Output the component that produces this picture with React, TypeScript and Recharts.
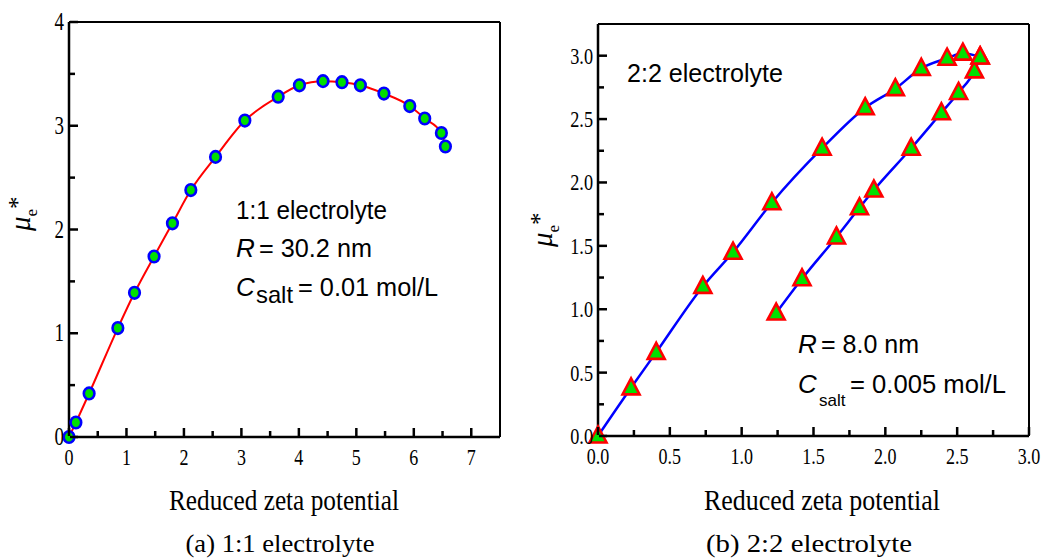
import React from "react";
import { LineChart, Line, XAxis, YAxis, ReferenceLine } from "recharts";

// (a) 1:1 electrolyte, R = 30.2 nm
const zeta11 = [0, 0.12, 0.35, 0.85, 1.14, 1.48, 1.8, 2.12, 2.55, 3.06, 3.64, 4.01, 4.42, 4.75, 5.07, 5.48, 5.93, 6.19, 6.48, 6.55];
const mu11 = [0, 0.14, 0.42, 1.05, 1.39, 1.74, 2.06, 2.38, 2.7, 3.05, 3.28, 3.39, 3.43, 3.42, 3.39, 3.31, 3.19, 3.07, 2.93, 2.8];

// (b) 2:2 electrolyte, R = 8.0 nm — upper and lower branch of the loop
const zeta22Upper = [0, 0.23, 0.405, 0.73, 0.94, 1.21, 1.56, 1.86, 2.07, 2.25, 2.43, 2.54, 2.66];
const mu22Upper = [0, 0.38, 0.66, 1.18, 1.45, 1.84, 2.27, 2.59, 2.74, 2.9, 2.98, 3.02, 2.99];
const zeta22Lower = [1.24, 1.42, 1.66, 1.82, 1.92, 2.18, 2.39, 2.51, 2.62, 2.66];
const mu22Lower = [0.97, 1.24, 1.57, 1.8, 1.94, 2.27, 2.55, 2.71, 2.88, 2.99];

const ticksX11 = [0, 0.5, 1, 1.5, 2, 2.5, 3, 3.5, 4, 4.5, 5, 5.5, 6, 6.5, 7];
const ticksY11 = [0, 0.5, 1, 1.5, 2, 2.5, 3, 3.5, 4];
const ticksX22 = [0, 0.25, 0.5, 0.75, 1, 1.25, 1.5, 1.75, 2, 2.25, 2.5, 2.75, 3];
const ticksY22 = [0, 0.25, 0.5, 0.75, 1, 1.25, 1.5, 1.75, 2, 2.25, 2.5, 2.75, 3];

const toPoints = (xs: number[], ys: number[]) => xs.map((x, i) => ({ x, y: ys[i] }));

const SERIF = "'Liberation Serif', 'Times New Roman', serif";
const SANS = "'Liberation Sans', Arial, sans-serif";
const GREEN = "#00e000";

const isInt = (v: number) => Math.abs(v - Math.round(v)) < 1e-6;
const isHalf = (v: number) => Math.abs(v * 2 - Math.round(v * 2)) < 1e-6;

// ticks point inwards, minor ones are shorter and unlabelled
function makeXTick(isMajor: (v: number) => boolean, fmt: (v: number) => string) {
  return (props: any) => {
    const { x, y, payload } = props;
    const v = payload.value;
    const major = isMajor(v);
    const y0 = y - 1;
    return (
      <g>
        <line x1={x} x2={x} y1={y0} y2={y0 - (major ? 8 : 5)} stroke="#000" strokeWidth={2.5} />
        {major && (
          <text
            transform={`translate(${x},${y0 + 29}) scale(0.75,1)`}
            textAnchor="middle"
            fontFamily={SERIF}
            fontSize={24}
            fill="#000"
          >
            {fmt(v)}
          </text>
        )}
      </g>
    );
  };
}

function makeYTick(isMajor: (v: number) => boolean, fmt: (v: number) => string, size: number) {
  return (props: any) => {
    const { x, y, payload } = props;
    const v = payload.value;
    const major = isMajor(v);
    const x0 = x + 1;
    return (
      <g>
        <line x1={x0} x2={x0 + (major ? 8 : 5)} y1={y} y2={y} stroke="#000" strokeWidth={2.5} />
        {major && (
          <text
            transform={`translate(${x0 - 6},${y + 8}) scale(0.76,1)`}
            textAnchor="end"
            fontFamily={SERIF}
            fontSize={size}
            fill="#000"
          >
            {fmt(v)}
          </text>
        )}
      </g>
    );
  };
}

const circleDot = (props: any) => {
  const { cx, cy, index } = props;
  return <ellipse key={index} cx={cx} cy={cy} rx={5.3} ry={5.8} fill={GREEN} stroke="#0000ff" strokeWidth={2.6} />;
};

const triangleDot = (props: any) => {
  const { cx, cy, index } = props;
  const pts = `${cx},${cy - 9.5} ${cx - 8.5},${cy + 6.5} ${cx + 8.5},${cy + 6.5}`;
  return <polygon key={index} points={pts} fill={GREEN} stroke="#ff0000" strokeWidth={2.6} strokeLinejoin="miter" />;
};

const axisStyle = { stroke: "#000", strokeWidth: 2.5 };

const MuLabel = ({ x, y }: { x: number; y: number }) => (
  <text transform={`rotate(-90, ${x}, ${y})`} x={x} y={y} fontFamily={SERIF} fill="#000">
    <tspan fontStyle="italic" fontSize={29}>μ</tspan>
    <tspan fontSize={17} dy={7}>e</tspan>
    <tspan fontSize={25} dy={-11}>*</tspan>
  </text>
);

const App: React.FC = () => {
  const data11 = toPoints(zeta11, mu11);
  const upper22 = toPoints(zeta22Upper, mu22Upper);
  const lower22 = toPoints(zeta22Lower, mu22Lower);

  return (
    <div style={{ position: "absolute", left: 0, top: 0, width: 1060, height: 558, background: "#fff" }}>
      <div style={{ position: "absolute", left: 0, top: 0 }}>
        <LineChart width={520} height={470} margin={{ top: 22, right: 20, bottom: 32, left: 68 }}>
          <XAxis
            type="number"
            dataKey="x"
            domain={[0, 7.5]}
            ticks={ticksX11}
            interval={0}
            height={1}
            tickSize={0}
            tickMargin={0}
            tickLine={false}
            axisLine={axisStyle}
            tick={makeXTick(isInt, (v) => String(v))}
          />
          <YAxis
            type="number"
            domain={[0, 4]}
            ticks={ticksY11}
            interval={0}
            width={1}
            tickSize={0}
            tickMargin={0}
            tickLine={false}
            axisLine={axisStyle}
            tick={makeYTick(isInt, (v) => String(v), 25)}
          />
          <ReferenceLine y={4} stroke="#000" strokeWidth={2} />
          <ReferenceLine x={7.5} stroke="#000" strokeWidth={2} />
          <Line
            data={data11}
            dataKey="y"
            type="monotone"
            stroke="#ff0000"
            strokeWidth={2}
            dot={circleDot}
            isAnimationActive={false}
          />
        </LineChart>
      </div>

      <div style={{ position: "absolute", left: 520, top: 0 }}>
        <LineChart width={540} height={470} margin={{ top: 24, right: 31, bottom: 33, left: 77 }}>
          <XAxis
            type="number"
            dataKey="x"
            domain={[0, 3]}
            ticks={ticksX22}
            interval={0}
            height={1}
            tickSize={0}
            tickMargin={0}
            tickLine={false}
            axisLine={axisStyle}
            tick={makeXTick(isHalf, (v) => v.toFixed(1))}
          />
          <YAxis
            type="number"
            domain={[0, 3.25]}
            ticks={ticksY22}
            interval={0}
            width={1}
            tickSize={0}
            tickMargin={0}
            tickLine={false}
            axisLine={axisStyle}
            tick={makeYTick(isHalf, (v) => v.toFixed(1), 24)}
          />
          <ReferenceLine y={3.25} stroke="#000" strokeWidth={2} />
          <ReferenceLine x={3} stroke="#000" strokeWidth={2} />
          <Line
            data={upper22}
            dataKey="y"
            type="monotone"
            stroke="#0000ff"
            strokeWidth={2.5}
            dot={triangleDot}
            isAnimationActive={false}
          />
          <Line
            data={lower22}
            dataKey="y"
            type="monotone"
            stroke="#0000ff"
            strokeWidth={2.5}
            dot={triangleDot}
            isAnimationActive={false}
          />
        </LineChart>
      </div>

      {/* titles and annotations */}
      <svg width={1060} height={558} style={{ position: "absolute", left: 0, top: 0, pointerEvents: "none" }}>
        <MuLabel x={30} y={231} />
        <MuLabel x={552} y={247} />

        <g fontFamily={SANS} fontSize={26} fill="#000">
          <text x={236} y={219} textLength={151} lengthAdjust="spacingAndGlyphs">1:1 electrolyte</text>
          <text x={236} y={257} fontStyle="italic">R</text>
          <text x={259} y={257} textLength={113} lengthAdjust="spacingAndGlyphs">= 30.2 nm</text>
          <text x={236} y={296} fontStyle="italic">C</text>
          <text x={256} y={303} fontSize={24} textLength={37} lengthAdjust="spacingAndGlyphs">salt</text>
          <text x={298} y={296} textLength={140} lengthAdjust="spacingAndGlyphs">= 0.01 mol/L</text>

          <text x={627} y={82} textLength={156} lengthAdjust="spacingAndGlyphs">2:2 electrolyte</text>
          <text x={798} y={353} fontStyle="italic">R</text>
          <text x={821} y={353} textLength={98} lengthAdjust="spacingAndGlyphs">= 8.0 nm</text>
          <text x={798} y={393} fontStyle="italic">C</text>
          <text x={819} y={406} fontSize={17}>salt</text>
          <text x={850} y={393} textLength={156} lengthAdjust="spacingAndGlyphs">= 0.005 mol/L</text>
        </g>

        <g fontFamily={SERIF} fill="#000" textAnchor="middle">
          <text x={284} y={510} fontSize={29} textLength={230} lengthAdjust="spacingAndGlyphs">
            Reduced zeta potential
          </text>
          <text x={822} y={510} fontSize={29} textLength={236} lengthAdjust="spacingAndGlyphs">
            Reduced zeta potential
          </text>
          <text x={280} y={552} fontSize={26} textLength={189} lengthAdjust="spacingAndGlyphs">
            (a) 1:1 electrolyte
          </text>
          <text x={809} y={552} fontSize={26} textLength={206} lengthAdjust="spacingAndGlyphs">
            (b) 2:2 electrolyte
          </text>
        </g>
      </svg>
    </div>
  );
};

export default App;
